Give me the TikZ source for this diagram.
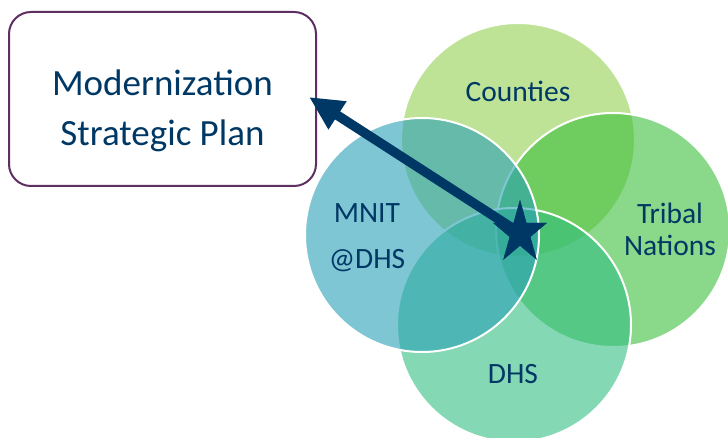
\documentclass[tikz,border=0pt]{standalone}
\usepackage{fontspec}
\setmainfont{Carlito}
\usepackage{tikz}
\usepackage{xcolor}
\usetikzlibrary{shapes.geometric,arrows.meta}

\definecolor{navy}{RGB}{0,56,101}
\definecolor{plum}{RGB}{94,47,99}
\definecolor{cgreen}{RGB}{146,208,80}
\definecolor{tgreen}{RGB}{60,190,60}
\definecolor{dgreen}{RGB}{50,190,130}
\definecolor{mblue}{RGB}{42,160,183}

\begin{document}
\begin{tikzpicture}[x=1pt,y=-1pt,
  ring/.style={circle,draw=white,line width=2pt,minimum size=234pt,inner sep=0pt,fill opacity=0.6},
  lbl/.style={text=navy,align=center,inner sep=0pt,font=\fontsize{29.5}{32}\selectfont}]
\useasboundingbox (0,0) rectangle (728,438);
\node [ring,fill=cgreen] (counties) at (518,140) {};
\node [ring,fill=tgreen] (tribal) at (613,230) {};
\node [ring,fill=dgreen] (dhs) at (514,325) {};
\node [ring,fill=mblue] (mnit) at (422,235) {};
\node [lbl,anchor=base] (countiestxt) at (518,102) {Counties};
\node [lbl] (tribaltxt) at (670,229) {Tribal\\Nations};
\node [lbl,anchor=base] (dhstxt) at (513,383) {DHS};
\node [lbl,font=\fontsize{29.5}{46}\selectfont] (mnittxt) at (367,238) {MNIT\\@DHS};
\node [draw=plum,line width=2pt,rounded corners=22pt,minimum width=307pt,minimum height=174pt,inner sep=0pt] (box) at (162.5,99) {};
\node [lbl,font=\fontsize{37}{50}\selectfont] (plan) at (162.5,111) {Modernization\\Strategic Plan};
\node [star,star points=5,star point ratio=2.618,fill=navy,minimum size=66pt,inner sep=0pt,xscale=0.86,transform shape] (star) at (520,233) {};
\draw [navy,line width=9.5pt,-{Triangle[length=34pt,width=31pt]}] (star.center) -- ([xshift=-8pt,yshift=2pt]box.east);
\node [star,star points=5,star point ratio=2.618,fill=navy,minimum size=66pt,inner sep=0pt,xscale=0.86,transform shape] at (star.center) {};
\end{tikzpicture}
\end{document}
